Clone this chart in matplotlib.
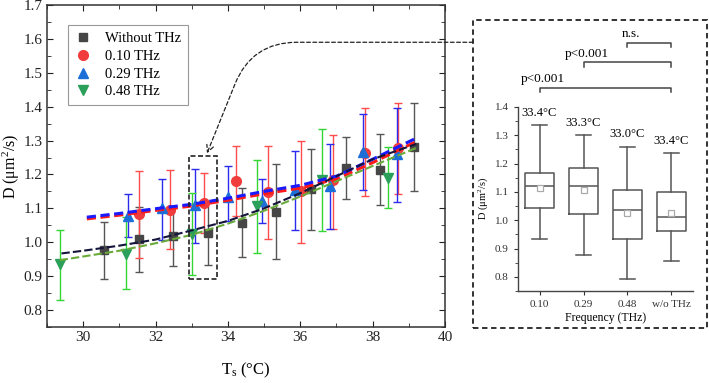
import numpy as np
import matplotlib.pyplot as plt
from matplotlib.ticker import MultipleLocator, FormatStrFormatter
from matplotlib.patches import Rectangle
from matplotlib.transforms import blended_transform_factory

plt.rcParams['font.family'] = ['Liberation Serif', 'DejaVu Serif']
plt.rcParams['mathtext.fontset'] = 'custom'
plt.rcParams['mathtext.rm'] = 'Liberation Serif'
plt.rcParams['mathtext.it'] = 'Liberation Serif:italic'

# Diffusion coefficient vs sample temperature (value, lower / upper end of error bar)
t_off = [30.57, 31.53, 32.47, 33.44, 34.39, 35.33, 36.29, 37.25, 38.19, 39.15]
d_off = [0.977, 1.009, 1.017, 1.027, 1.058, 1.090, 1.157, 1.219, 1.214, 1.281]
lo_off = [0.893, 0.912, 0.931, 0.933, 0.957, 0.950, 1.036, 1.128, 1.110, 1.152]
hi_off = [1.059, 1.103, 1.100, 1.123, 1.160, 1.230, 1.276, 1.310, 1.318, 1.410]

t_10 = [31.53, 32.41, 33.35, 34.22, 35.10, 36.02, 36.89, 37.80, 38.71]
d_10 = [1.084, 1.096, 1.116, 1.182, 1.147, 1.150, 1.185, 1.264, 1.279]
lo_10 = [0.954, 0.981, 1.027, 1.076, 1.010, 0.997, 1.039, 1.135, 1.142]
hi_10 = [1.210, 1.213, 1.205, 1.284, 1.284, 1.300, 1.315, 1.395, 1.412]

t_29 = [31.23, 32.17, 33.10, 34.01, 34.94, 35.86, 36.82, 37.73, 38.67]
d_29 = [1.078, 1.101, 1.109, 1.134, 1.123, 1.155, 1.167, 1.266, 1.259]
lo_29 = [1.015, 1.007, 0.997, 1.063, 1.056, 1.037, 1.039, 1.155, 1.118]
hi_29 = [1.143, 1.187, 1.215, 1.224, 1.187, 1.269, 1.290, 1.378, 1.395]

t_48 = [29.37, 31.19, 33.02, 34.80, 36.59, 38.42]
d_48 = [0.935, 0.964, 1.024, 1.106, 1.183, 1.190]
lo_48 = [0.829, 0.863, 0.904, 0.969, 1.034, 1.100]
hi_48 = [1.037, 1.074, 1.146, 1.242, 1.335, 1.282]

# fitted curves
fit_t_off = [29.4, 30, 31, 32, 33, 34, 35, 36, 37, 38, 39.2]
fit_off = [0.967, 0.975, 0.990, 1.008, 1.035, 1.063, 1.100, 1.145, 1.195, 1.245, 1.290]
fit_t_10 = [30.1, 31, 32, 33, 34, 35, 36, 37, 38, 39.2]
fit_10 = [1.069, 1.080, 1.094, 1.107, 1.124, 1.143, 1.160, 1.187, 1.235, 1.297]
fit_29 = [1.074, 1.085, 1.099, 1.112, 1.130, 1.150, 1.168, 1.195, 1.245, 1.307]
fit_t_48 = [29.35, 30, 31, 32, 33, 34, 35, 36, 37, 38, 39.2]
fit_48 = [0.947, 0.958, 0.975, 0.997, 1.022, 1.055, 1.093, 1.135, 1.180, 1.225, 1.278]

# inset: box statistics around 33 degC
freq_labels = ['0.10', '0.29', '0.48', 'w/o THz']
box_whislo = [0.934, 0.877, 0.794, 0.855]
box_q1 = [1.043, 1.023, 0.934, 0.962]
box_med = [1.121, 1.122, 1.037, 1.010]
box_q3 = [1.166, 1.186, 1.108, 1.101]
box_whishi = [1.336, 1.300, 1.260, 1.238]
box_mean = [1.113, 1.105, 1.025, 1.027]
box_temps = ['33.4°C', '33.3°C', '33.0°C', '33.4°C']
sig_pairs = [(1, 4), (2, 4), (3, 4)]
sig_labels = ['p<0.001', 'p<0.001', 'n.s.']

fig = plt.figure(figsize=(7.09, 3.83), dpi=100)
ax = fig.add_axes([0.0663, 0.1462, 0.5614, 0.8408])

series = [
    (t_off, d_off, lo_off, hi_off, 's', '#464646', '#555555', 'Without THz', 6),
    (t_10, d_10, lo_10, hi_10, 'o', '#f03c3c', '#ff4d4d', '0.10 THz', 7),
    (t_29, d_29, lo_29, hi_29, '^', '#1d6fd8', '#2b2bf0', '0.29 THz', 7),
    (t_48, d_48, lo_48, hi_48, 'v', '#2aa05a', '#33d633', '0.48 THz', 7),
]
handles = []
for t, d, lo, hi, mk, mc, ec, lab, ms in series:
    d = np.array(d)
    yerr = [d - np.array(lo), np.array(hi) - d]
    c = ax.errorbar(t, d, yerr=yerr, fmt=mk, ms=ms, color=mc, ecolor=ec,
                    elinewidth=1.0, capsize=3, capthick=1.0, label=lab, zorder=3)
    handles.append(c[0])

ax.plot(fit_t_10, fit_10, ls=(0, (3, 1.5)), lw=2.2, color='#ff1a1a', zorder=5)
ax.plot(fit_t_10, fit_29, ls=(0, (3, 1.5)), lw=2.2, color='#1a1aff', zorder=5)
ax.plot(fit_t_off, fit_off, ls=(0, (4, 1.5)), lw=1.5, color='#14143c', zorder=5)
ax.plot(fit_t_48, fit_48, ls=(0, (4, 1.5)), lw=1.5, color='#6aaa3a', zorder=5)

ax.set_xlim(29, 40)
ax.set_ylim(0.75, 1.7)
ax.xaxis.set_major_locator(MultipleLocator(2))
ax.xaxis.set_minor_locator(MultipleLocator(1))
ax.yaxis.set_major_locator(MultipleLocator(0.1))
ax.yaxis.set_minor_locator(MultipleLocator(0.05))
ax.yaxis.set_major_formatter(FormatStrFormatter('%.1f'))
ax.tick_params(which='both', direction='in', top=True, right=True, labelsize=11,
               colors='#222222', pad=3)
ax.tick_params(axis='y', pad=3)
ax.tick_params(which='major', length=4)
ax.tick_params(which='minor', length=3)
for s in ax.spines.values():
    s.set_linewidth(1.1)
    s.set_color('#333333')
ax.set_xlabel('T$_\\mathrm{s}$ (°C)', fontsize=12, labelpad=12)
ax.set_ylabel('D (μm$^2$/s)', fontsize=11.5)
ax.yaxis.set_label_coords(-0.062, 0.5)

leg = ax.legend(handles=handles, labels=[s[7] for s in series], loc='upper left',
                bbox_to_anchor=(0.053, 0.938), borderaxespad=0, fontsize=10.5,
                frameon=True, fancybox=False, edgecolor='#999999', framealpha=1,
                handlelength=1.0, handletextpad=1.0, labelspacing=0.3,
                borderpad=0.5)
leg.get_frame().set_linewidth(0.8)

# dashed box marking the region shown in the inset
ax.add_patch(Rectangle((32.93, 0.892), 0.76, 0.362, fill=False, ls=(0, (3, 1.5)),
                       lw=1.2, ec='#222222', zorder=6))

# frame around inset
box_left = 0.667
fig.patches.append(Rectangle((box_left, 0.144), 0.330, 0.804, transform=fig.transFigure,
                             fill=False, ls=(0, (3, 2)), lw=1.3, ec='#222222'))

# curved dashed arrow from the inset frame to the marked region
start_tr = blended_transform_factory(fig.transFigure, ax.transData)
ax.annotate('', xy=(33.42, 1.262), xycoords='data',
            xytext=(box_left, 1.59), textcoords=start_tr,
            arrowprops=dict(arrowstyle='->,head_length=0.5,head_width=0.25',
                            connectionstyle='angle,angleA=0,angleB=68,rad=45',
                            ls=(0, (3, 2)), lw=0.9, color='#222222',
                            shrinkA=0, shrinkB=0),
            annotation_clip=False)

# inset box plot
ins = fig.add_axes([0.730, 0.240, 0.248, 0.481])
pos = np.arange(1, len(freq_labels) + 1)
stats = []
for i in range(len(freq_labels)):
    stats.append(dict(med=box_med[i], q1=box_q1[i], q3=box_q3[i],
                      whislo=box_whislo[i], whishi=box_whishi[i], mean=box_mean[i]))
gray = '#555555'
ins.bxp(stats, positions=pos, widths=0.66, showmeans=True, showfliers=False,
        boxprops=dict(color=gray, lw=1.1), medianprops=dict(color=gray, lw=1.1),
        whiskerprops=dict(color=gray, lw=1.1), capprops=dict(color=gray, lw=1.1),
        capwidths=0.36,
        meanprops=dict(marker='s', markerfacecolor='white', markeredgecolor='#aaaaaa',
                       markersize=5, markeredgewidth=0.9))
for p, top, txt in zip(pos, box_whishi, box_temps):
    ins.text(p, top + 0.022, txt, ha='center', va='bottom', fontsize=9)

ins.set_xlim(0.5, 4.5)
ins.set_ylim(0.75, 1.4)
ins.set_xticks(pos)
ins.set_xticklabels(freq_labels)
ins.yaxis.set_major_locator(MultipleLocator(0.1))
ins.yaxis.set_minor_locator(MultipleLocator(0.05))
ins.yaxis.set_major_formatter(FormatStrFormatter('%.1f'))
ins.tick_params(which='both', direction='out', labelsize=8, colors='#333333')
ins.tick_params(which='major', length=3)
ins.tick_params(which='minor', length=2)
ins.spines['top'].set_visible(False)
ins.spines['right'].set_visible(False)
for s in ['left', 'bottom']:
    ins.spines[s].set_color('#444444')
    ins.spines[s].set_linewidth(1.0)
ins.set_xlabel('Frequency (THz)', fontsize=8.5, labelpad=2)
ins.set_ylabel('D (μm$^2$/s)', fontsize=7.5, labelpad=3)

# significance brackets above the inset
bracket_y = [1.468, 1.558, 1.627]
for (a, b), lab, y in zip(sig_pairs, sig_labels, bracket_y):
    ins.plot([a, a, b, b], [y - 0.017, y, y, y - 0.017], color='#444444', lw=1.1,
             clip_on=False)
    ins.text(a + 0.08, y + 0.008, lab, ha='center', va='bottom', fontsize=9.5)

fig.savefig('out.png', dpi=100)
